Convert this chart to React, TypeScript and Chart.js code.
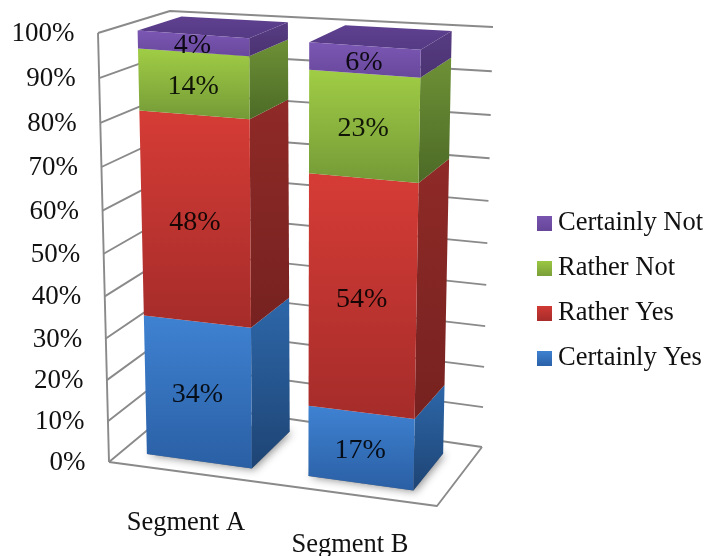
import React, { useEffect, useRef } from "react";
import { Chart, registerables } from "chart.js";

Chart.register(...registerables);

const categories = ["Segment A", "Segment B"];
const certainlyYes = [34, 17];
const ratherYes = [48, 54];
const ratherNot = [14, 23];
const certainlyNot = [4, 6];

const FONT = '"Liberation Serif", "Times New Roman", serif';

type Pt = [number, number];

// Corners of the plot box on screen: F = front, B = back, L = left, R = right.
const floor = { FL: [109, 462] as Pt, FR: [437, 506] as Pt, BL: [180, 403] as Pt, BR: [482, 447] as Pt };
const ceil = { FL: [98, 33] as Pt, FR: [446, 58] as Pt, BL: [170, 11] as Pt, BR: [493, 27] as Pt };
const foreshorten = 1.06;
const barFrontDepth = 0.19;
const barBackDepth = 0.815;
const barShift = -0.012;

const faceStyles = [
  { legend: ["#3f82d2", "#2b62aa"], front: ["#3f82d2", "#2a5fa4"], side: ["#2d67a9", "#1e4474"], top: ["#2d67a9", "#2d67a9"] },
  { legend: ["#d23a35", "#a82d2b"], front: ["#d63c36", "#a52c2a"], side: ["#8f2a27", "#762220"], top: ["#8f2a27", "#8f2a27"] },
  { legend: ["#9cc943", "#7ba03a"], front: ["#a0cd45", "#749a37"], side: ["#6e9136", "#4c6a26"], top: ["#6e9136", "#6e9136"] },
  { legend: ["#7a55b0", "#66479a"], front: ["#7b57b3", "#68489c"], side: ["#573c83", "#4b3371"], top: ["#5e4090", "#553a84"] },
];

const bilinear = (q: typeof floor, a: number, d: number): Pt => {
  const mix = (i: 0 | 1) =>
    (1 - d) * ((1 - a) * q.FL[i] + a * q.FR[i]) + d * ((1 - a) * q.BL[i] + a * q.BR[i]);
  return [mix(0), mix(1)];
};

// a: share of the width, v: share of the value axis, d: depth into the box.
const project = (a: number, v: number, d: number): Pt => {
  const t = v <= 0 ? 0 : v / (v + (1 - v) * foreshorten);
  const lo = bilinear(floor, a, d);
  const hi = bilinear(ceil, a, d);
  return [lo[0] + (hi[0] - lo[0]) * t, lo[1] + (hi[1] - lo[1]) * t];
};

const fillPoly = (ctx: CanvasRenderingContext2D, pts: Pt[], fill: string | CanvasGradient) => {
  ctx.beginPath();
  pts.forEach((p, i) => (i ? ctx.lineTo(p[0], p[1]) : ctx.moveTo(p[0], p[1])));
  ctx.closePath();
  ctx.fillStyle = fill;
  ctx.fill();
};

const strokeLine = (ctx: CanvasRenderingContext2D, pts: Pt[]) => {
  ctx.beginPath();
  pts.forEach((p, i) => (i ? ctx.lineTo(p[0], p[1]) : ctx.moveTo(p[0], p[1])));
  ctx.stroke();
};

const vGrad = (ctx: CanvasRenderingContext2D, y0: number, y1: number, stops: string[]) => {
  const g = ctx.createLinearGradient(0, y0, 0, y1);
  g.addColorStop(0, stops[0]);
  g.addColorStop(1, stops[1]);
  return g;
};

const swatch = (stops: string[]) => {
  const c = document.createElement("canvas");
  c.width = 15;
  c.height = 15;
  const x = c.getContext("2d")!;
  x.fillStyle = vGrad(x, 0, 15, stops);
  x.fillRect(0, 0, 15, 15);
  return c;
};

const box3d = {
  id: "box3d",
  beforeDatasetsDraw(chart: any) {
    const { ctx, chartArea: area, scales } = chart;
    const yScale = scales.y;
    const xScale = scales.x;
    const share = (px: number) => (px - area.left) / area.width;
    const valueOf = (py: number) => yScale.getValueForPixel(py) / 100;

    ctx.save();

    // Walls and floor
    ctx.strokeStyle = "#8a8a8a";
    ctx.lineWidth = 1.9;
    ctx.lineJoin = "round";
    for (const tick of yScale.ticks) {
      const v = tick.value / 100;
      strokeLine(ctx, [project(0, v, 0), project(0, v, 1), project(1, v, 1)]);
    }
    strokeLine(ctx, [project(0, 0, 0), project(0, 1, 0)]);
    strokeLine(ctx, [project(0, 0, 0), project(1, 0, 0), project(1, 0, 1)]);

    // Value axis labels follow the slanted front edge
    ctx.fillStyle = "#111";
    ctx.font = `27px ${FONT}`;
    ctx.textAlign = "right";
    ctx.textBaseline = "middle";
    yScale.ticks.forEach((tick: any) => {
      const p = project(0, tick.value / 100, 0);
      ctx.fillText(tick.label, p[0] - 23.5, p[1] + 1);
    });

    // Category labels sit below the floor's front edge, so they step down
    ctx.font = `26.5px ${FONT}`;
    ctx.textAlign = "center";
    ctx.textBaseline = "alphabetic";
    xScale.ticks.forEach((tick: any, i: number) => {
      const p = project(share(xScale.getPixelForTick(i)), 0, 0);
      ctx.fillText(tick.label, p[0] - 5, p[1] + 57);
    });

    // Floor shadows under each column
    const first = chart.getDatasetMeta(0).data;
    first.forEach((bar: any) => {
      const a0 = share(bar.x - bar.width / 2) + barShift;
      const a1 = share(bar.x + bar.width / 2) + barShift;
      ctx.save();
      ctx.shadowColor = "rgba(0,0,0,0.45)";
      ctx.shadowBlur = 8;
      ctx.shadowOffsetX = 2;
      ctx.shadowOffsetY = 1;
      fillPoly(
        ctx,
        [project(a0, 0, barFrontDepth), project(a1, 0, barFrontDepth), project(a1, 0, barBackDepth), project(a0, 0, barBackDepth)],
        "#777"
      );
      ctx.restore();
    });

    // Columns, bottom segment first
    chart.data.datasets.forEach((_ds: any, di: number) => {
      const style = faceStyles[di];
      chart.getDatasetMeta(di).data.forEach((bar: any) => {
        const a0 = share(bar.x - bar.width / 2) + barShift;
        const a1 = share(bar.x + bar.width / 2) + barShift;
        const vLo = valueOf(bar.base);
        const vHi = valueOf(bar.y);
        const f0 = barFrontDepth;
        const f1 = barBackDepth;

        const sTop = project(a1, vHi, f1);
        const sBot = project(a1, vLo, f0);
        fillPoly(
          ctx,
          [project(a1, vLo, f0), project(a1, vHi, f0), project(a1, vHi, f1), project(a1, vLo, f1)],
          vGrad(ctx, sTop[1], sBot[1], style.side)
        );
        if (di === chart.data.datasets.length - 1) {
          const tTop = project(a0, vHi, f1);
          const tBot = project(a1, vHi, f0);
          fillPoly(
            ctx,
            [project(a0, vHi, f0), project(a1, vHi, f0), project(a1, vHi, f1), project(a0, vHi, f1)],
            vGrad(ctx, tTop[1], tBot[1], style.top)
          );
        }
        const fTop = project(a0, vHi, f0);
        const fBot = project(a1, vLo, f0);
        fillPoly(
          ctx,
          [project(a0, vLo, f0), project(a1, vLo, f0), project(a1, vHi, f0), project(a0, vHi, f0)],
          vGrad(ctx, fTop[1], fBot[1], style.front)
        );
      });
    });

    // Value labels centred on each front face
    ctx.fillStyle = "rgba(0,0,0,0.88)";
    ctx.font = `28px ${FONT}`;
    ctx.textAlign = "center";
    ctx.textBaseline = "middle";
    chart.data.datasets.forEach((ds: any, di: number) => {
      chart.getDatasetMeta(di).data.forEach((bar: any, i: number) => {
        const a = share(bar.x) + barShift;
        const v = (valueOf(bar.base) + valueOf(bar.y)) / 2;
        const p = project(a, v, barFrontDepth);
        ctx.fillText(`${ds.data[i]}%`, p[0] - 1, p[1] + 2.5);
      });
    });

    ctx.restore();
    return false;
  },
};

export default function App() {
  const ref = useRef<HTMLCanvasElement>(null);

  useEffect(() => {
    const seriesValues = [certainlyYes, ratherYes, ratherNot, certainlyNot];
    const seriesNames = ["Certainly Yes", "Rather Yes", "Rather Not", "Certainly Not"];
    const swatches = faceStyles.map((s) => swatch(s.legend));

    const chart = new Chart(ref.current!, {
      type: "bar",
      data: {
        labels: categories,
        datasets: seriesValues.map((data, i) => ({
          label: seriesNames[i],
          data,
          backgroundColor: faceStyles[i].front[0],
          barPercentage: 0.65,
          categoryPercentage: 1,
        })),
      },
      options: {
        responsive: false,
        animation: false,
        layout: { padding: { top: 25, right: -7 } },
        scales: {
          x: { stacked: true, display: false },
          y: {
            stacked: true,
            display: false,
            min: 0,
            max: 100,
            ticks: { stepSize: 10, callback: (v: any) => `${v}%` },
          },
        },
        plugins: {
          tooltip: { enabled: false },
          legend: {
            position: "right",
            reverse: true,
            labels: {
              color: "#111",
              font: { family: FONT, size: 26.5 },
              padding: 18.5,
              usePointStyle: true,
              pointStyleWidth: 0.01,
              boxHeight: 15,
              generateLabels: (c: any) =>
                Chart.defaults.plugins.legend.labels
                  .generateLabels(c)
                  .map((item: any) => ({ ...item, pointStyle: swatches[item.datasetIndex] })),
            },
          },
        },
      },
      plugins: [box3d],
    } as any);
    return () => chart.destroy();
  }, []);

  return (
    <div style={{ position: "absolute", left: 0, top: 0, width: 706, height: 556 }}>
      <canvas ref={ref} width={706} height={556} style={{ display: "block" }} />
    </div>
  );
}
